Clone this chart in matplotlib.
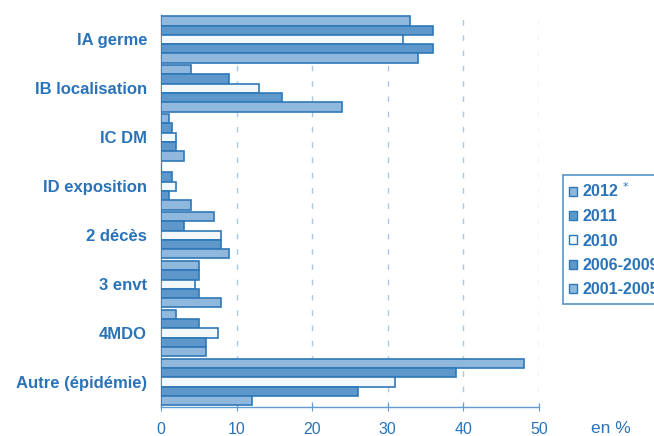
import numpy as np
import matplotlib.pyplot as plt
from matplotlib.patches import Patch

# Data (en %)
categories = ['IA germe', 'IB localisation', 'IC DM', 'ID exposition',
              '2 décès', '3 envt', '4MDO', 'Autre (épidémie)']
series = ['2012', '2011', '2010', '2006-2009', '2001-2005']
v2012 = [33, 4, 1, 0, 7, 5, 2, 48]
v2011 = [36, 9, 1.5, 1.5, 3, 5, 5, 39]
v2010 = [32, 13, 2, 2, 8, 4.5, 7.5, 31]
v2006_2009 = [36, 16, 2, 1, 8, 5, 6, 26]
v2001_2005 = [34, 24, 3, 4, 9, 8, 6, 12]
values = [v2012, v2011, v2010, v2006_2009, v2001_2005]

edge = '#2f78b8'
txt = '#2a73b9'
light = '#8fb8dc'
dark = '#5e98ca'
white = '#f3f8fc'
fills = [light, dark, white, dark, light]

plt.rcParams['font.family'] = ['Liberation Sans', 'DejaVu Sans']

fig = plt.figure(figsize=(6.54, 4.36), dpi=100)
ax = fig.add_axes([161 / 654, 1 - 406.5 / 436, 378 / 654, 391.5 / 436])

n = len(categories)
slot = 0.19
y0 = np.arange(n)
for j, vals in enumerate(values):
    ypos = y0 - 0.5 + 0.025 + slot * (j + 0.5)
    ax.barh(ypos, vals, height=slot, color=fills[j], edgecolor=edge,
            linewidth=1.2, zorder=3)

ax.set_ylim(n - 0.5, -0.5)
ax.set_xlim(0, 50)
ax.set_xticks(np.arange(0, 51, 10))
ax.set_yticks(y0)
ax.set_yticklabels(categories, fontsize=12, fontweight='bold', color=txt)
ax.tick_params(axis='y', length=0, pad=10)
ax.tick_params(axis='x', direction='inout', length=6, color='#5f9bd0',
               labelsize=11.5, labelcolor=txt, pad=8)

ax.xaxis.grid(True, linestyle=(0, (4, 7)), color='#a9c8e6', linewidth=1, zorder=0)
for s in ['top', 'right']:
    ax.spines[s].set_visible(False)
for s in ['left', 'bottom']:
    ax.spines[s].set_color('#5f9bd0')
    ax.spines[s].set_linewidth(1)

fig.text(611 / 654, 1 - 428 / 436, 'en %', color=txt, fontsize=12.5,
         ha='center', va='center')

labels = ['2012 $^{*}$', '2011', '2010', '2006-2009', '2001-2005']
handles = [Patch(facecolor=fills[j], edgecolor=edge, linewidth=1) for j in range(5)]
leg = fig.legend(handles, labels, loc='upper left',
                 bbox_to_anchor=(563 / 654, 1 - 175 / 436), borderaxespad=0,
                 frameon=True, fancybox=False, handlelength=0.5, handleheight=0.5,
                 handletextpad=0.3, labelspacing=0.58, borderpad=0.4,
                 prop={'size': 11.5, 'weight': 'bold'})
leg.get_frame().set_edgecolor(edge)
leg.get_frame().set_linewidth(1.2)
for t in leg.get_texts():
    t.set_color(txt)

fig.savefig('out.png', dpi=100)
